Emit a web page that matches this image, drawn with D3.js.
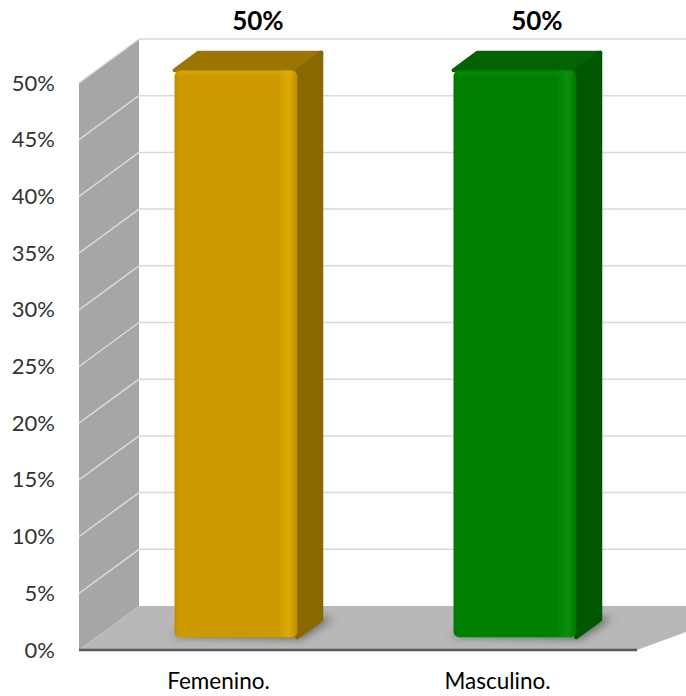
<!DOCTYPE html>
<html>
<head>
<meta charset="utf-8">
<script src="https://cdn.jsdelivr.net/npm/d3@7"></script>
<style>
  html, body { margin: 0; padding: 0; background: #ffffff; }
  svg { display: block; font-family: Lato, "Open Sans", sans-serif; }
</style>
</head>
<body>
<svg id="chart" width="686" height="696"></svg>
<script>
// Data
const categories = ["Femenino.", "Masculino."];
const values = [0.50, 0.50];
const tickValues = [0, 0.05, 0.10, 0.15, 0.20, 0.25, 0.30, 0.35, 0.40, 0.45, 0.50];
const barFront = ["#CC9900", "#008000"];
const barSide = ["#8A6800", "#005700"];
const barTop = ["#9C7600", "#006400"];
const barHighlight = ["#DDAA08", "#0C8F0C"];

const svg = d3.select("#chart");
const defs = svg.append("defs");

// Front plane geometry and depth offset of the 3D box
const left = 79, right = 637, front0 = 650, front50 = 83;
const depthX = 60, depthY = 44;

const y = d3.scaleLinear().domain([0, 0.5]).range([front0, front50]);
const x = d3.scaleBand().domain(categories).range([left, right]);
const pct = d3.format(".0%");

// projection of (x, value, depth z in 0..1)
const P = (px, v, z) => [px + z * depthX, y(v) - z * depthY];
const pts = arr => arr.map(p => p.join(",")).join(" ");
const pathOf = arr => "M" + arr.map(p => p.join(",")).join("L") + "Z";

// Side wall
svg.append("polygon")
  .attr("points", pts([P(left, 0.5, 0), P(left, 0.5, 1), P(left, 0, 1), P(left, 0, 0)]))
  .attr("fill", "#A6A6A6");

// Floor
svg.append("polygon")
  .attr("points", pts([P(left, 0, 0), P(left, 0, 1), P(right + 60, 0, 1), P(right, 0, 0)]))
  .attr("fill", "#B8B8B8");

// Gridlines on the back wall and side wall
const grid = tickValues.filter(v => v > 0);
svg.append("g").selectAll("line").data(grid).join("line")
  .attr("x1", d => P(left, d, 1)[0]).attr("y1", d => P(left, d, 1)[1])
  .attr("x2", 686).attr("y2", d => P(left, d, 1)[1])
  .attr("stroke", "#D9D9D9").attr("stroke-width", 1.5);
svg.append("g").selectAll("line").data(grid).join("line")
  .attr("x1", d => P(left, d, 0)[0]).attr("y1", d => P(left, d, 0)[1])
  .attr("x2", d => P(left, d, 1)[0]).attr("y2", d => P(left, d, 1)[1])
  .attr("stroke", "#D9D9D9").attr("stroke-width", 1.5);

// Floor front edge
svg.append("line")
  .attr("x1", left).attr("x2", right).attr("y1", front0).attr("y2", front0)
  .attr("stroke", "#595959").attr("stroke-width", 2.5);

// Shadow filter
const blur = defs.append("filter").attr("id", "shadow")
  .attr("x", "-50%").attr("y", "-50%").attr("width", "200%").attr("height", "200%");
blur.append("feGaussianBlur").attr("stdDeviation", 4);

// Bars
const zF = 0.29, zB = 0.69;
const barW = x.bandwidth() * 0.44;

categories.forEach((c, i) => {
  const v = values[i];
  const cx = x(c) + x.bandwidth() / 2;
  const x0 = cx - barW / 2, x1 = cx + barW / 2;
  const g = svg.append("g");

  // shadow on the floor
  g.append("polygon")
    .attr("points", pts([P(x0 - 4, 0, zF + 0.02), P(x1 + 6, 0, zF - 0.04), P(x1 + 10, 0, zB + 0.04), P(x0, 0, zB)]))
    .attr("fill", "#404040").attr("opacity", 0.7).attr("filter", "url(#shadow)");

  // front gradient
  const grad = defs.append("linearGradient").attr("id", "front" + i)
    .attr("x1", "0%").attr("x2", "100%").attr("y1", "0%").attr("y2", "0%");
  grad.append("stop").attr("offset", "0%").attr("stop-color", d3.color(barFront[i]).darker(0.2));
  grad.append("stop").attr("offset", "4%").attr("stop-color", barFront[i]);
  grad.append("stop").attr("offset", "84%").attr("stop-color", barFront[i]);
  grad.append("stop").attr("offset", "93%").attr("stop-color", barHighlight[i]);
  grad.append("stop").attr("offset", "100%").attr("stop-color", d3.color(barFront[i]).darker(0.2));

  // top face
  g.append("path")
    .attr("d", pathOf([P(x0, v, zF), P(x0, v, zB), P(x1, v, zB), P(x1, v, zF)]))
    .attr("fill", barTop[i]).attr("stroke", barTop[i]).attr("stroke-width", 4).attr("stroke-linejoin", "round");

  // side face
  g.append("path")
    .attr("d", pathOf([P(x1, v, zF), P(x1, v, zB), P(x1, 0, zB), P(x1, 0, zF)]))
    .attr("fill", barSide[i]).attr("stroke", barSide[i]).attr("stroke-width", 4).attr("stroke-linejoin", "round");

  // front face
  const [fx0, fy0] = P(x0, v, zF);
  const [fx1, fy1] = P(x1, 0, zF);
  g.append("rect")
    .attr("x", fx0).attr("y", fy0).attr("width", fx1 - fx0).attr("height", fy1 - fy0)
    .attr("rx", 6).attr("fill", "url(#front" + i + ")");
  // top rim highlight
  g.append("rect")
    .attr("x", fx0 + 3).attr("y", fy0 + 1).attr("width", fx1 - fx0 - 6).attr("height", 4)
    .attr("rx", 2).attr("fill", barHighlight[i]).attr("opacity", 0.45);

  // value label
  const [lx] = P(cx, v, zB);
  svg.append("text")
    .attr("x", lx - 2).attr("y", 30)
    .attr("text-anchor", "middle")
    .attr("font-weight", "bold").attr("font-size", 26).attr("fill", "#000")
    .text(pct(v));
});

// Y axis labels
const yAxis = d3.axisLeft(y).tickValues(tickValues).tickFormat(pct).tickSize(0).tickPadding(24);
const ya = svg.append("g").attr("transform", `translate(${left},0)`).call(yAxis);
ya.select(".domain").remove();
ya.selectAll("text").attr("font-size", 22).attr("fill", "#333").attr("font-family", "Lato, sans-serif");

// X axis labels
const xAxis = d3.axisBottom(x).tickSize(0).tickPadding(23);
const xa = svg.append("g").attr("transform", `translate(0,${front0})`).call(xAxis);
xa.select(".domain").remove();
xa.selectAll("text").attr("font-size", 22.5).attr("fill", "#000").attr("font-family", "Lato, sans-serif");
</script>
</body>
</html>
